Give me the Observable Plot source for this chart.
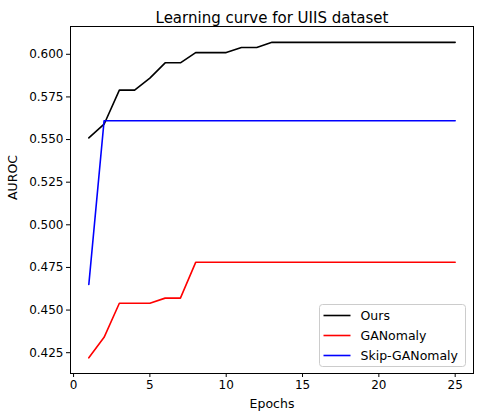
<!DOCTYPE html>
<html>
<head>
<meta charset="utf-8">
<script src="https://cdn.jsdelivr.net/npm/d3@7"></script>
<script src="https://cdn.jsdelivr.net/npm/@observablehq/plot@0.6"></script>
<style>
  html, body { margin: 0; padding: 0; background: #fff; }
  svg { display: block; }
</style>
</head>
<body>
<div id="chart"></div>
<script>
const epochs = [1,2,3,4,5,6,7,8,9,10,11,12,13,14,15,16,17,18,19,20,21,22,23,24,25];
const ours = [0.551,0.559,0.579,0.579,0.586,0.595,0.595,0.601,0.601,0.601,0.604,0.604,0.607,0.607,0.607,0.607,0.607,0.607,0.607,0.607,0.607,0.607,0.607,0.607,0.607];
const ganomaly = [0.422,0.434,0.454,0.454,0.454,0.457,0.457,0.478,0.478,0.478,0.478,0.478,0.478,0.478,0.478,0.478,0.478,0.478,0.478,0.478,0.478,0.478,0.478,0.478,0.478];
const skipGanomaly = [0.465,0.561,0.561,0.561,0.561,0.561,0.561,0.561,0.561,0.561,0.561,0.561,0.561,0.561,0.561,0.561,0.561,0.561,0.561,0.561,0.561,0.561,0.561,0.561,0.561];
const seriesNames = ["Ours", "GANomaly", "Skip-GANomaly"];
const seriesColors = ["black", "red", "blue"];
const xTicks = [0,5,10,15,20,25];
const yTicks = [0.425,0.450,0.475,0.500,0.525,0.550,0.575,0.600];
const title = "Learning curve for UIIS dataset";

const seriesValues = [ours, ganomaly, skipGanomaly];
const data = seriesNames.flatMap((name, i) =>
  epochs.map((e, j) => ({epoch: e, auroc: seriesValues[i][j], series: name})));

const font = "DejaVu Sans, sans-serif";
const chart = Plot.plot({
  width: 480,
  height: 417,
  marginLeft: 70,
  marginRight: 7,
  marginTop: 26,
  marginBottom: 44,
  style: {fontFamily: font, fontSize: "12px", color: "black", background: "white"},
  x: {domain: [-0.2, 26.2]},
  y: {domain: [0.4128, 0.6163]},
  color: {domain: seriesNames, range: seriesColors},
  marks: [
    Plot.axisX({ticks: xTicks, tickSize: 4, tickPadding: 3, label: null, fontSize: 12}),
    Plot.axisY({ticks: yTicks, tickSize: 4, tickPadding: 3, tickFormat: d3.format(".3f"), label: null, fontSize: 12}),
    Plot.line(data, {x: "epoch", y: "auroc", z: "series", stroke: "series", strokeWidth: 1.6}),
    Plot.frame({stroke: "black", strokeWidth: 1}),
    Plot.text([title], {frameAnchor: "top", dy: -14, fontSize: 15, fill: "black"}),
    Plot.text(["Epochs"], {frameAnchor: "bottom", dy: 34, fontSize: 12.5, fill: "black"}),
    Plot.text(["AUROC"], {frameAnchor: "left", dx: -58, rotate: -90, fontSize: 12.5, fill: "black"})
  ]
});

// legend (matplotlib style, lower right)
const svg = d3.select(chart);
const lg = svg.append("g").attr("transform", "translate(319.5,304.5)")
  .attr("font-family", font).attr("font-size", 12.5).attr("text-anchor", "start");
lg.append("rect").attr("width", 146).attr("height", 62).attr("rx", 3)
  .attr("fill", "white").attr("fill-opacity", 0.8).attr("stroke", "#cccccc");
seriesNames.forEach((name, i) => {
  const y = 11 + i * 20;
  lg.append("line").attr("x1", 4).attr("x2", 31).attr("y1", y).attr("y2", y)
    .attr("stroke", seriesColors[i]).attr("stroke-width", 1.6);
  lg.append("text").attr("x", 41).attr("y", y).attr("dy", "0.35em")
    .attr("text-anchor", "start").attr("fill", "black").text(name);
});

document.getElementById("chart").append(chart);
</script>
</body>
</html>
